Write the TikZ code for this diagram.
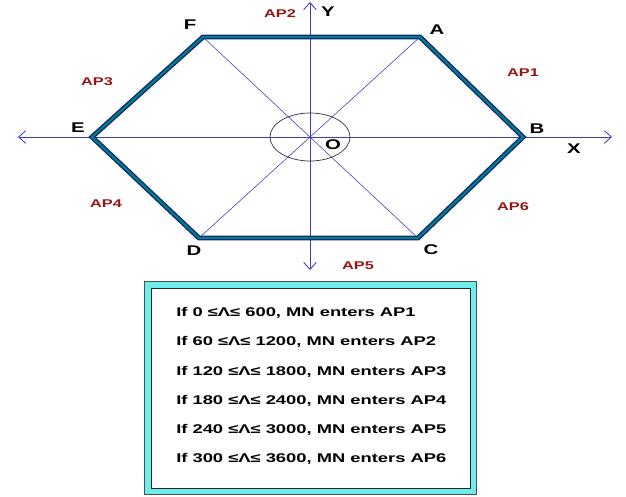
\documentclass[tikz,border=0pt]{standalone}
\usepackage{fontspec}
\setsansfont{Liberation Sans}[FakeStretch=1.45]
\usetikzlibrary{arrows.meta,positioning}
\definecolor{hexteal}{RGB}{0,125,135}
\definecolor{hexnavy}{RGB}{15,35,115}
\definecolor{axisblue}{RGB}{60,60,190}
\definecolor{apred}{RGB}{150,20,20}
\definecolor{boxcyan}{RGB}{110,235,235}
\tikzset{
  vlabel/.style={font=\sffamily\bfseries\fontsize{10}{11}\selectfont, text=black, inner sep=0pt},
  aplabel/.style={font=\sffamily\bfseries\fontsize{8}{9}\selectfont, text=apred, inner sep=0pt},
  rulelabel/.style={font=\sffamily\bfseries\fontsize{9}{10}\selectfont, anchor=west, inner sep=0pt},
  axis/.style={axisblue, line width=0.6pt},
  diag/.style={axisblue, line width=0.4pt}
}

\begin{document}
\begin{tikzpicture}[x=0.025cm, y=-0.025cm, >={Straight Barb[length=5pt,width=9pt]}]
    \useasboundingbox (0,0) rectangle (626,496);

    % Vertici e assi
    \coordinate (O) at (310,137);
    \coordinate (A) at (420,37);
    \coordinate (B) at (523,137);
    \coordinate (C) at (418,238);
    \coordinate (D) at (199,238);
    \coordinate (E) at (92,137);
    \coordinate (F) at (203,37);
    \coordinate (xl) at (18,137);
    \coordinate (xr) at (612,137);
    \coordinate (yt) at (310,2);
    \coordinate (yb) at (310,270);

    \draw[axis, <->] (xl) -- (xr);
    \draw[axis, <->] (yt) -- (yb);
    \draw[diag] (F) -- (C);
    \draw[diag] (A) -- (D);
    \draw[black!80, line width=0.5pt] (O) ellipse [x radius=40, y radius=24];

    % Esagono
    \draw[hexnavy, line width=3.5pt, line join=miter] (A) -- (B) -- (C) -- (D) -- (E) -- (F) -- cycle;
    \draw[hexteal, line width=1.6pt, line join=miter] (A) -- (B) -- (C) -- (D) -- (E) -- (F) -- cycle;

    \node[vlabel] (lA) at (437,30) {A};
    \node[vlabel] (lB) at (537,129) {B};
    \node[vlabel] (lC) at (431,250) {C};
    \node[vlabel] (lD) at (194,251) {D};
    \node[vlabel] (lE) at (78,128) {E};
    \node[vlabel] (lF) at (190,25) {F};
    \node[vlabel] (lO) at (333,145) {O};
    \node[vlabel] (lX) at (574,149) {X};
    \node[vlabel] (lY) at (328,12) {Y};

    \node[aplabel] (ap1) at (523,73) {AP1};
    \node[aplabel] (ap2) at (280,14) {AP2};
    \node[aplabel] (ap3) at (97,82) {AP3};
    \node[aplabel] (ap4) at (106,204) {AP4};
    \node[aplabel] (ap5) at (358,266) {AP5};
    \node[aplabel] (ap6) at (513,207) {AP6};

    % Riquadro delle regole
    \fill[boxcyan] (144,281) rectangle (476,494);
    \draw[gray!60!black, line width=0.7pt] (144,281) rectangle (476,494);
    \fill[white] (151,288) rectangle (470,488);
    \draw[black!85, line width=0.7pt] (151,288) rectangle (470,488);

    \foreach \i/\lo/\hi [count=\k] in {1/0/600, 2/60/1200, 3/120/1800, 4/180/2400, 5/240/3000, 6/300/3600}
        \node[rulelabel] (rule\k) at (176,{313+(\k-1)*29.2}) {If \lo{} ≤Λ≤ \hi, MN enters AP\i};
\end{tikzpicture}
\end{document}
